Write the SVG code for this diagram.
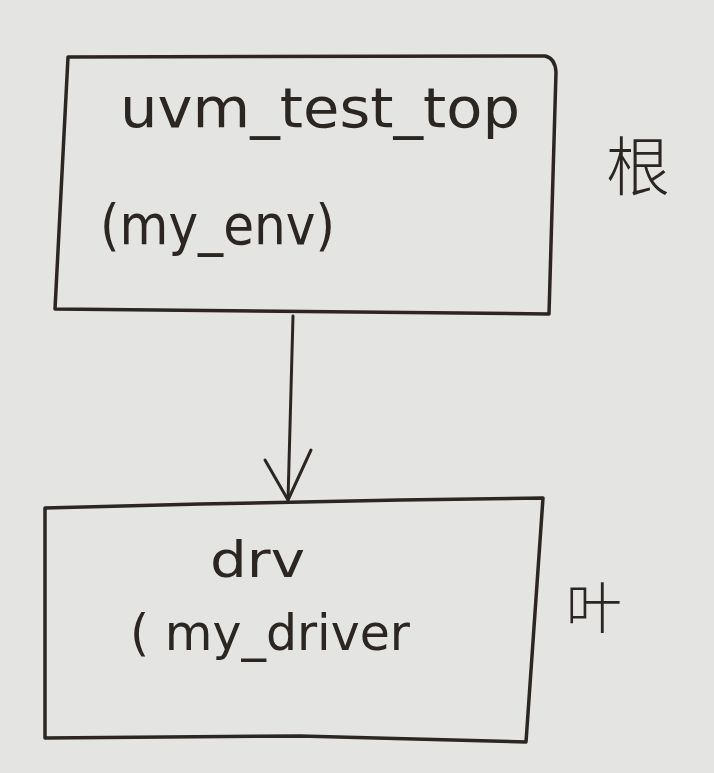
<svg xmlns="http://www.w3.org/2000/svg" width="714" height="773" viewBox="0 0 714 773">
<style>
.box{fill:none;stroke:#2b2622;stroke-width:3.5;stroke-linejoin:round;stroke-linecap:round}
.conn{fill:none;stroke:#2b2622;stroke-width:3;stroke-linecap:round;stroke-linejoin:round}
.t{font-family:"DejaVu Sans","Liberation Sans",sans-serif;fill:#2b2622;font-weight:normal}
.c{font-family:"Noto Sans CJK SC","Noto Sans CJK JP",sans-serif;fill:#2b2622;font-weight:300}
</style>
<rect width="714" height="773" fill="#e4e4e3"/>
<g id="root">
<path class="box" d="M68,57 L545,56 Q555,58 556,72 L549,314 L55,309 Z"/>
<text class="t" x="120" y="127" font-size="56" textLength="400" lengthAdjust="spacingAndGlyphs">uvm_test_top</text>
<text class="t" x="100" y="244" font-size="56" textLength="235" lengthAdjust="spacingAndGlyphs">(my_env)</text>
</g>
<g id="root-label">
<text class="c" x="606" y="190" font-size="64">根</text>
</g>
<g id="leaf">
<path class="box" d="M45,508 L200,504 L400,500 L543,498 L526,742 L300,736 L45,738 Z"/>
<text class="t" x="210" y="577" font-size="50" textLength="95" lengthAdjust="spacingAndGlyphs">drv</text>
<text class="t" x="130" y="650" font-size="50" textLength="280" lengthAdjust="spacingAndGlyphs">( my_driver</text>
</g>
<g id="leaf-label">
<text class="c" x="566" y="628" font-size="56">叶</text>
</g>
<g id="connectors">
<path class="conn" d="M293,316 L288,500"/>
<path class="conn" d="M265,460 L288,500 L311,450"/>
</g>
</svg>
